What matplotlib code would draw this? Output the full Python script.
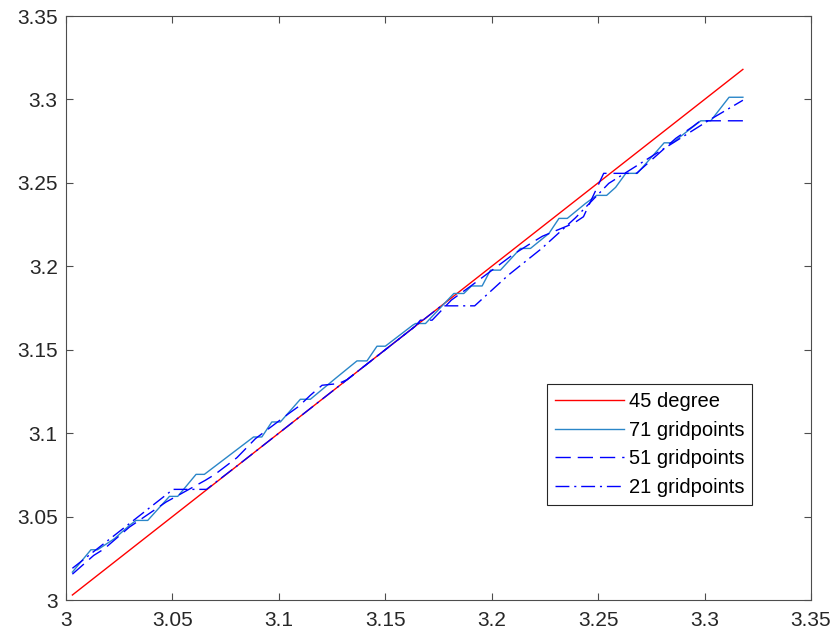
import matplotlib
matplotlib.use("Agg")
import matplotlib.pyplot as plt

plt.rcParams['font.family'] = ['Liberation Sans', 'DejaVu Sans']

# 45 degree line
x_45 = [3.003, 3.318]
y_45 = [3.003, 3.318]

# 71 gridpoints (vertices)
x_71 = [3.003, 3.0117, 3.0148, 3.0227, 3.0298, 3.0329, 3.0384, 3.0486, 3.0525,
        3.0611, 3.065, 3.0881, 3.092, 3.0967, 3.1007, 3.1101, 3.1148, 3.1265,
        3.1367, 3.1414, 3.1461, 3.15, 3.1629, 3.1642, 3.1689, 3.1822, 3.1869,
        3.1905, 3.1955, 3.1994, 3.2041, 3.2135, 3.2182, 3.2269, 3.2316, 3.2355,
        3.2441, 3.2493, 3.2540, 3.2582, 3.263, 3.2684, 3.281, 3.2849, 3.2982,
        3.3029, 3.3115, 3.318]
y_71 = [3.0167, 3.0301, 3.0301, 3.0367, 3.0447, 3.0477, 3.0477, 3.0621, 3.0621,
        3.0753, 3.0753, 3.0977, 3.0977, 3.1067, 3.1067, 3.1203, 3.1203, 3.1327,
        3.1433, 3.1433, 3.1521, 3.1521, 3.1647, 3.1657, 3.1657, 3.1837, 3.1837,
        3.1882, 3.1882, 3.1977, 3.1977, 3.2107, 3.2107, 3.2197, 3.2287, 3.2287,
        3.2377, 3.2425, 3.2425, 3.2473, 3.2557, 3.2557, 3.274, 3.274, 3.2872,
        3.2872, 3.3013, 3.3013]

# 51 gridpoints
x_51 = [3.003, 3.013, 3.018, 3.0298, 3.047, 3.0654, 3.07, 3.0803, 3.089, 3.1046,
        3.1093, 3.1148, 3.1203, 3.128, 3.132, 3.164, 3.1665, 3.172, 3.181, 3.19,
        3.2, 3.21, 3.2183, 3.2238, 3.2384, 3.2431, 3.2526, 3.268, 3.2865,
        3.2943, 3.298, 3.318]
y_51 = [3.0155, 3.0267, 3.0307, 3.0437, 3.0587, 3.0717, 3.0753, 3.0853, 3.0967,
        3.1117, 3.116, 3.1227, 3.1287, 3.1297, 3.132, 3.164, 3.1677, 3.1677,
        3.1797, 3.188, 3.1975, 3.207, 3.2137, 3.218, 3.2257, 3.2297,
        3.2557, 3.2557, 3.2767, 3.2836, 3.2872, 3.2872]

# 21 gridpoints
x_21 = [3.003, 3.0188, 3.0345, 3.0503, 3.066, 3.0818, 3.0975, 3.1133, 3.129,
        3.1448, 3.1605, 3.1763, 3.192, 3.2078, 3.2235, 3.2393, 3.255, 3.2708,
        3.2865, 3.3023, 3.318]
y_21 = [3.019, 3.0348, 3.0505, 3.0663, 3.0663, 3.0818, 3.0975, 3.1133, 3.129,
        3.1448, 3.1605, 3.1763, 3.1763, 3.1947, 3.2107, 3.229, 3.2497, 3.2624,
        3.275, 3.2877, 3.2995]

ticks = [3, 3.05, 3.1, 3.15, 3.2, 3.25, 3.3, 3.35]
tick_labels = ['3', '3.05', '3.1', '3.15', '3.2', '3.25', '3.3', '3.35']

fig = plt.figure(figsize=(8.3, 6.4), dpi=100)
ax = fig.add_axes([66 / 830, 40 / 640, 745 / 830, 584 / 640])

lw = 1.0
ax.plot(x_45, y_45, color='#ff0000', lw=lw, label='45 degree')
ax.plot(x_71, y_71, color='#2a86c8', lw=lw, label='71 gridpoints')
ax.plot(x_51, y_51, color='#0000ff', lw=lw, linestyle=(0, (11, 5)),
        label='51 gridpoints')
ax.plot(x_21, y_21, color='#0000ff', lw=lw, linestyle=(0, (10, 3.5, 1.5, 3.5)),
        label='21 gridpoints')

ax.set_xlim(3, 3.35)
ax.set_ylim(3, 3.35)
ax.set_xticks(ticks)
ax.set_xticklabels(tick_labels)
ax.set_yticks(ticks)
ax.set_yticklabels(tick_labels)

axis_color = '#262626'
for sp in ax.spines.values():
    sp.set_color('#4d4d4d')
    sp.set_linewidth(0.8)
ax.tick_params(direction='in', length=5, width=0.8, colors='#4d4d4d',
               labelcolor=axis_color, labelsize=15, top=True, right=True, pad=6)
ax.tick_params(axis='x', pad=8)

leg = ax.legend(loc='upper left', bbox_to_anchor=((547 - 66) / 745, (600 - 384) / 584),
                borderaxespad=0, fontsize=14.5, handlelength=3.4,
                handletextpad=0.25, labelspacing=0.48, borderpad=0.4,
                fancybox=False, framealpha=1)
leg.get_frame().set_edgecolor('#262626')
leg.get_frame().set_linewidth(0.8)

fig.savefig('out.png', dpi=100)
